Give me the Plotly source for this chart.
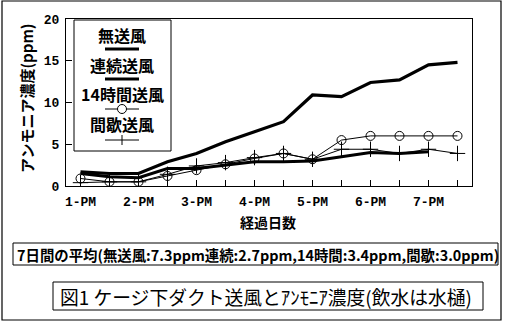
import plotly.graph_objects as go

# ---------------- data ----------------
categories = ["1-PM", "2-AM", "2-PM", "3-AM", "3-PM", "4-AM", "4-PM",
              "5-AM", "5-PM", "6-AM", "6-PM", "7-AM", "7-PM", "8-AM"]
tick_labels = ["1-PM", "", "2-PM", "", "3-PM", "", "4-PM",
               "", "5-PM", "", "6-PM", "", "7-PM", ""]
y_ticks = [0, 5, 10, 15, 20]

no_vent = [1.7, 1.5, 1.5, 2.9, 3.9, 5.3, 6.5, 7.7, 10.9, 10.7, 12.4, 12.7, 14.5, 14.8]
continuous = [1.5, 1.1, 1.0, 2.1, 2.1, 2.5, 2.9, 2.9, 3.0, 3.5, 4.0, 3.9, 4.1]
hours14 = [0.9, 0.5, 0.5, 1.2, 1.9, 2.6, 3.3, 3.9, 3.2, 5.5, 6.0, 6.0, 6.0, 6.0]
intermittent = [0.4, 0.5, 0.5, 1.4, 2.4, 2.8, 3.4, 3.9, 3.2, 4.4, 4.4, 3.9, 4.4, 3.9]

series_names = ["無送風", "連続送風", "14時間送風", "間歇送風"]
y_title = "アンモニア濃度(ppm)"
x_title = "経過日数"
avg_text = "7日間の平均(無送風:7.3ppm連続:2.7ppm,14時間:3.4ppm,間歇:3.0ppm)"
fig_title = "図1 ケージ下ダクト送風とｱﾝﾓﾆｱ濃度(飲水は水樋)"

# ---------------- layout geometry (pixels) ----------------
W, H = 505, 323
L, R, T, B = 66, 472, 19, 186  # plot area edges


def px(x):
    return (x - L) / (R - L)


def py(y):
    return (B - y) / (B - T)


CJK = "Noto Sans CJK JP"
MONO = "Liberation Mono"

fig = go.Figure()

fig.add_trace(go.Scatter(x=categories, y=no_vent, mode="lines", name=series_names[0],
                         line=dict(color="black", width=3.2), showlegend=False))
fig.add_trace(go.Scatter(x=categories[:len(continuous)], y=continuous, mode="lines",
                         name=series_names[1], line=dict(color="black", width=3),
                         showlegend=False))
fig.add_trace(go.Scatter(x=categories, y=hours14, mode="lines+markers", name=series_names[2],
                         line=dict(color="black", width=1),
                         marker=dict(symbol="circle-open", size=9, color="black",
                                     line=dict(width=1, color="black")),
                         showlegend=False))
fig.add_trace(go.Scatter(x=categories, y=intermittent, mode="lines+markers",
                         name=series_names[3], line=dict(color="black", width=1),
                         marker=dict(symbol="cross-thin-open", size=11, color="black",
                                     line=dict(width=1, color="black")),
                         showlegend=False))

shapes = []
annotations = []

# outer frame
shapes.append(dict(type="rect", xref="paper", yref="paper",
                   x0=px(2), x1=px(501), y0=py(320), y1=py(1),
                   line=dict(color="black", width=1.2), fillcolor="rgba(0,0,0,0)",
                   layer="below"))

# legend box
shapes.append(dict(type="rect", xref="paper", yref="paper",
                   x0=px(74), x1=px(171), y0=py(151), y1=py(20),
                   line=dict(color="black", width=1), fillcolor="white"))
leg_cx = 122
leg_text_y = [35, 65, 94, 124]
leg_line_y = [49, 79, 109, 140]
leg_widths = [3.2, 3, 1, 1]
for name, ty, ly, lw in zip(series_names, leg_text_y, leg_line_y, leg_widths):
    annotations.append(dict(xref="paper", yref="paper", x=px(leg_cx), y=py(ty),
                            text=name, showarrow=False, xanchor="center", yanchor="middle",
                            font=dict(family=CJK, size=16, color="black", weight="bold")))
    shapes.append(dict(type="line", xref="paper", yref="paper",
                       x0=px(leg_cx - 17), x1=px(leg_cx + 17), y0=py(ly), y1=py(ly),
                       line=dict(color="black", width=lw)))
# legend symbols
shapes.append(dict(type="circle", xref="paper", yref="paper",
                   x0=px(leg_cx - 4.5), x1=px(leg_cx + 4.5),
                   y0=py(leg_line_y[2] + 4.5), y1=py(leg_line_y[2] - 4.5),
                   line=dict(color="black", width=1), fillcolor="white"))
shapes.append(dict(type="line", xref="paper", yref="paper",
                   x0=px(leg_cx), x1=px(leg_cx),
                   y0=py(leg_line_y[3] + 5), y1=py(leg_line_y[3] - 5),
                   line=dict(color="black", width=1)))

# y-axis title
annotations.append(dict(xref="paper", yref="paper", x=px(27), y=py(98), text=y_title,
                        textangle=-90, showarrow=False, xanchor="center", yanchor="middle",
                        font=dict(family=CJK, size=15, color="black", weight="bold")))
# x-axis title
annotations.append(dict(xref="paper", yref="paper", x=px(268), y=py(222), text=x_title,
                        showarrow=False, xanchor="center", yanchor="middle",
                        font=dict(family=CJK, size=14, color="black", weight="bold")))

# average box
shapes.append(dict(type="rect", xref="paper", yref="paper",
                   x0=px(13), x1=px(498), y0=py(265), y1=py(243),
                   line=dict(color="black", width=1), fillcolor="rgba(0,0,0,0)"))
annotations.append(dict(xref="paper", yref="paper", x=px(15), y=py(254), text=avg_text,
                        showarrow=False, xanchor="left", yanchor="middle",
                        font=dict(family=CJK, size=14.4, color="black", weight="bold")))

# figure caption box
shapes.append(dict(type="rect", xref="paper", yref="paper",
                   x0=px(53), x1=px(483), y0=py(310), y1=py(282),
                   line=dict(color="black", width=1), fillcolor="rgba(0,0,0,0)"))
annotations.append(dict(xref="paper", yref="paper", x=px(58), y=py(296), text=fig_title,
                        showarrow=False, xanchor="left", yanchor="middle",
                        font=dict(family=CJK, size=18.8, color="black")))

fig.update_layout(
    width=W, height=H,
    margin=dict(l=L, r=W - R, t=T, b=H - B, pad=0),
    paper_bgcolor="white", plot_bgcolor="white",
    showlegend=False,
    shapes=shapes, annotations=annotations,
    xaxis=dict(type="category", categoryorder="array", categoryarray=categories,
               range=[-0.5, len(categories) - 0.5],
               tickmode="array", tickvals=categories, ticktext=tick_labels,
               ticks="inside", ticklen=6, tickcolor="black", tickwidth=1,
               showline=True, linecolor="black", linewidth=1, mirror=True,
               showgrid=False, zeroline=False, ticklabelstandoff=3,
               tickfont=dict(family=MONO, size=13, color="black", weight="bold")),
    yaxis=dict(range=[0, 20], tickmode="array", tickvals=y_ticks,
               ticks="inside", ticklen=6, tickcolor="black", tickwidth=1,
               showline=True, linecolor="black", linewidth=1, mirror=True,
               showgrid=False, zeroline=False, ticklabelstandoff=3,
               tickfont=dict(family=MONO, size=13, color="black", weight="bold")),
)

fig.write_html("out.html")
